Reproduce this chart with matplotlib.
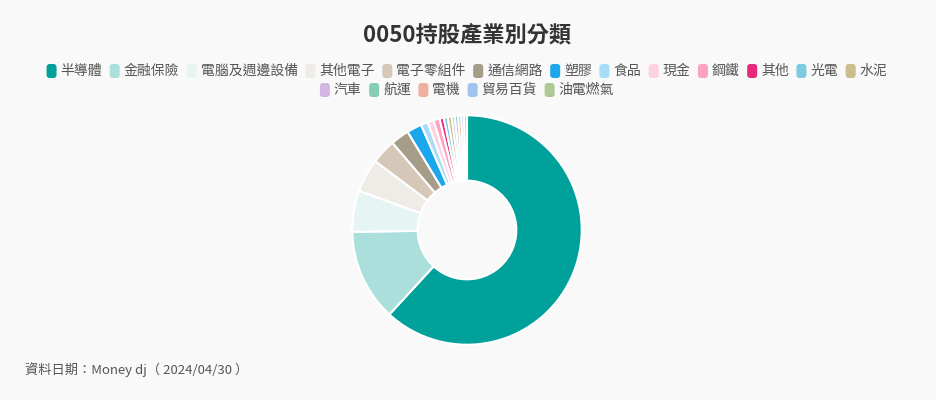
import matplotlib
matplotlib.use("Agg")
import matplotlib.pyplot as plt
from matplotlib.patches import FancyBboxPatch

plt.rcParams['font.family'] = ['Noto Sans CJK TC', 'DejaVu Sans']

# 0050 holdings by industry (percent)
categories = ['半導體', '金融保險', '電腦及週邊設備', '其他電子', '電子零組件', '通信網路',
              '塑膠', '食品', '現金', '鋼鐵', '其他', '光電', '水泥',
              '汽車', '航運', '電機', '貿易百貨', '油電燃氣']
weights = [61.8, 12.9, 5.8, 4.7, 3.5, 2.6,
           2.1, 1.0, 0.85, 0.85, 0.6, 0.55, 0.55,
           0.45, 0.45, 0.45, 0.4, 0.4]
colors = ['#00a19a', '#abdfdc', '#e6f4f4', '#efebe7', '#d5c8b8', '#a59d8a',
          '#1aa7ec', '#a7dcf7', '#fed1e0', '#fca3c2', '#e8287a', '#7ecade', '#cbbe8d',
          '#d3b6e4', '#86cdb5', '#efb0a0', '#9fc5ee', '#b0c895']

W, H = 936, 400
BG = '#f9f9f9'
fig = plt.figure(figsize=(W / 100, H / 100), dpi=100, facecolor=BG)

# donut: centre (467, 230) px, outer radius 117 px
cx, cy, r = 467, 230, 117
ax = fig.add_axes([(cx - r) / W, (H - cy - r) / H, 2 * r / W, 2 * r / H])
ax.pie(weights, colors=colors, startangle=90, counterclock=False, radius=1,
       wedgeprops=dict(width=0.57, edgecolor='white', linewidth=1.5))
ax.set_xlim(-1.02, 1.02)
ax.set_ylim(-1.02, 1.02)
ax.set_aspect('equal')
ax.axis('off')

fig.text(467 / W, 1 - 35 / H, '0050持股產業別分類', ha='center', va='center',
         fontsize=16, fontweight='bold', color='#333333')

fig.text(25 / W, 1 - 370 / H, '資料日期：Money dj（ 2024/04/30 ）', ha='left', va='center',
         fontsize=9.5, color='#555555')

# flow legend, centred rows
fig.canvas.draw()
renderer = fig.canvas.get_renderer()
fs = 10
mw, mh, gap, spacing = 10, 14, 4, 7.5
widths = []
for c in categories:
    t = fig.text(0, 0, c, fontsize=fs)
    widths.append(t.get_window_extent(renderer).width)
    t.remove()

rows, row, row_w = [], [], 0
max_w = 860
for i, w in enumerate(widths):
    item = mw + gap + w
    need = item if not row else row_w + spacing + item
    if row and need > max_w:
        rows.append((row, row_w))
        row, row_w = [i], item
    else:
        row.append(i)
        row_w = need
rows.append((row, row_w))

y = 71
for items, rw in rows:
    x = 467 - rw / 2
    for i in items:
        # rounded rectangle marker, drawn in pixel units
        fig.patches.append(FancyBboxPatch(
            (x + 2, H - y - mh / 2 + 2), mw - 4, mh - 4,
            boxstyle='round,pad=2,rounding_size=3', transform=None,
            facecolor=colors[i], edgecolor='none'))
        fig.text((x + mw + gap) / W, 1 - y / H, categories[i], fontsize=fs,
                 color='#555555', ha='left', va='center')
        x += mw + gap + widths[i] + spacing
    y += 19

fig.savefig('out.png', dpi=100, facecolor=BG)
